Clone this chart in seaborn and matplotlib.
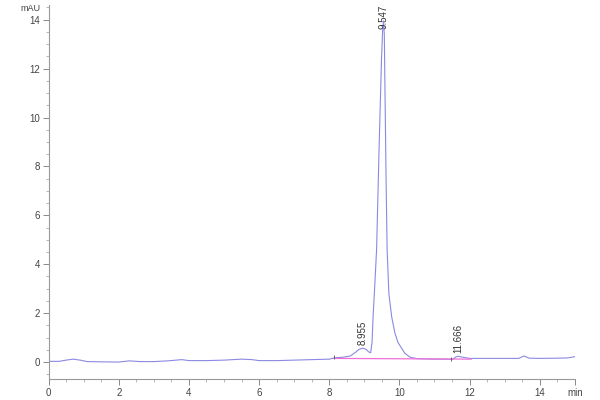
import matplotlib
matplotlib.use('Agg')
import matplotlib.pyplot as plt
from matplotlib.ticker import MultipleLocator
import numpy as np
import pandas as pd
import seaborn as sns

# chromatogram trace (min, mAU)
time_min = [0.0, 0.3, 0.5, 0.7, 0.9, 1.1, 1.5, 2.0, 2.3, 2.6, 3.0, 3.4, 3.8, 4.0, 4.5,
            5.0, 5.5, 5.8, 6.0, 6.5, 7.0, 7.5, 8.0, 8.14, 8.4, 8.6, 8.75, 8.85, 8.955,
            9.05, 9.12, 9.18, 9.22, 9.25, 9.30, 9.35, 9.42, 9.49, 9.52, 9.547, 9.57,
            9.59, 9.62, 9.65, 9.70, 9.78, 9.87, 9.96, 10.15, 10.3, 10.5, 11.0, 11.4,
            11.5, 11.6, 11.666, 11.8, 12.0, 12.5, 13.0, 13.4, 13.55, 13.7, 14.0, 14.5,
            14.8, 15.0]
signal_mau = [0.03, 0.03, 0.08, 0.12, 0.08, 0.02, 0.01, 0.0, 0.05, 0.02, 0.02, 0.05, 0.1,
              0.06, 0.06, 0.08, 0.12, 0.1, 0.06, 0.06, 0.08, 0.1, 0.12, 0.17, 0.2, 0.25,
              0.4, 0.52, 0.57, 0.52, 0.42, 0.38, 0.8, 1.85, 3.2, 4.6, 8.7, 12.4, 13.5,
              13.95, 13.4, 11.0, 7.5, 4.6, 2.8, 1.85, 1.2, 0.8, 0.37, 0.2, 0.14, 0.12,
              0.12, 0.1, 0.2, 0.24, 0.2, 0.15, 0.15, 0.15, 0.15, 0.25, 0.16, 0.15, 0.16,
              0.17, 0.22]

# integration baseline
base_time = [8.14, 12.05]
base_mau = [0.15, 0.12]

peak_rt = [8.955, 9.547, 11.666]
peak_height = [0.57, 13.95, 0.24]
peak_label = ['8.955', '9.547', '11.666']

sns.set_style('ticks')
plt.rcParams['font.family'] = ['Liberation Sans', 'DejaVu Sans']

fig = plt.figure(figsize=(6, 4), dpi=100)
ax = fig.add_axes([0.081, 0.052, 0.877, 0.9355])

df = pd.DataFrame({'t': time_min, 'mAU': signal_mau})
sns.lineplot(data=df, x='t', y='mAU', ax=ax, color='#8a8ae2', lw=0.8)
sns.lineplot(x=base_time, y=base_mau, ax=ax, color='#f070d8', lw=0.9)
ax.plot([8.14, 11.46], [0.2, 0.12], ls='none', marker='|', ms=3, color='#555555', mew=0.6)

for rt, h, lab in zip(peak_rt, peak_height, peak_label):
    ax.text(rt, min(h + 0.12, 13.6), lab, rotation=90, ha='center', va='bottom',
            fontsize=7, color='#333333', clip_on=False)

ax.set_xlim(0, 15)
ax.set_ylim(-0.7, 14.6)
ax.xaxis.set_minor_locator(MultipleLocator(0.5))
ax.yaxis.set_major_locator(MultipleLocator(2))
ax.yaxis.set_minor_locator(MultipleLocator(0.5))
ax.set_xticks(list(range(0, 15, 2)) + [15])
ax.set_xticklabels([str(v) for v in range(0, 15, 2)] + ['min'])
ax.set_xlabel('')
ax.set_ylabel('')
ax.text(-0.015, 14.45, 'mAU', transform=ax.get_yaxis_transform(), ha='right',
        va='center', fontsize=6.5, color='#444444')

sns.despine(ax=ax)
for s in ['left', 'bottom']:
    ax.spines[s].set_color('#999999')
    ax.spines[s].set_linewidth(0.8)
ax.tick_params(which='major', length=4, width=0.7, color='#888888', labelsize=7,
               labelcolor='#444444', pad=2)
ax.tick_params(which='minor', length=2.5, width=0.6, color='#aaaaaa')

fig.savefig('out.png', dpi=100)
